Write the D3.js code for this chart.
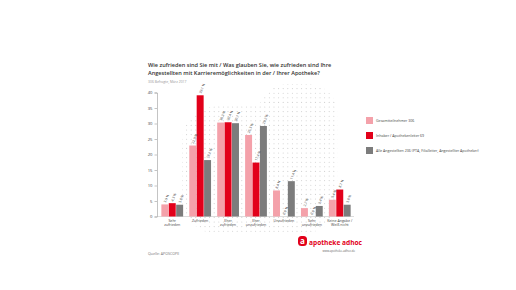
<!DOCTYPE html>
<html>
<head>
<meta charset="utf-8">
<script src="https://cdn.jsdelivr.net/npm/d3@7"></script>
<style>
  html, body { margin: 0; padding: 0; background: #fff; }
  svg { display: block; font-family: "Open Sans", "Liberation Sans", sans-serif; }
</style>
</head>
<body>
<div id="chart"></div>
<script>
(function () {
  'use strict';

  var categories = ['Sehr zufrieden', 'Zufrieden', 'Eher zufrieden', 'Eher unzufrieden',
                    'Unzufrieden', 'Sehr unzufrieden', 'Keine Angabe / Weiß nicht'];
  var categoryLines = [['Sehr', 'zufrieden'], ['Zufrieden'], ['Eher', 'zufrieden'], ['Eher', 'unzufrieden'],
                       ['Unzufrieden'], ['Sehr', 'unzufrieden'], ['Keine Angabe /', 'Weiß nicht']];
  var seriesNames = ['Gesamtteilnehmer 306', 'Inhaber / Apothekenleiter 69',
                     'Alle Angestellten 236 (PTA, Filialleiter, Angestellter Apotheker)'];
  var gesamt = [3.9, 22.9, 30.3, 26.3, 8.4, 2.7, 5.4];
  var inhaber = [4.3, 39.1, 30.4, 17.4, 0.0, 0.0, 8.7];
  var angestellte = [3.8, 18.2, 30.1, 29.2, 11.4, 3.4, 3.8];
  var yTicks = [0, 5, 10, 15, 20, 25, 30, 35, 40];
  var colors = ['#f4a1aa', '#e2001a', '#7c7c7c'];

  var seriesValues = [gesamt, inhaber, angestellte];
  var width = 516, height = 290;

  var svg = d3.select('#chart').append('svg')
      .attr('width', width).attr('height', height);

  // background dot pattern (rough "a" outline)
  var defs = svg.append('defs');
  var clip = defs.append('clipPath').attr('id', 'dotclip');
  clip.append('rect')
      .attr('x', 182).attr('y', 106).attr('width', 156).attr('height', 128)
      .attr('rx', 36).attr('ry', 36);
  clip.append('rect')
      .attr('x', 258).attr('y', 84).attr('width', 80).attr('height', 90)
      .attr('rx', 30).attr('ry', 30);
  var dotPts = d3.cross(d3.range(182, 340, 4.6), d3.range(84, 236, 4.6));
  svg.append('g').attr('clip-path', 'url(#dotclip)')
      .selectAll('circle').data(dotPts).enter().append('circle')
      .attr('cx', function (d) { return d[0]; })
      .attr('cy', function (d) { return d[1]; })
      .attr('r', 0.55).attr('fill', '#cfcfcf');

  var x0 = d3.scaleBand().domain(categories).range([158, 354])
      .paddingInner(0.22).paddingOuter(0.12);
  var x1 = d3.scaleBand().domain([0, 1, 2]).range([0, x0.bandwidth()]).paddingInner(0.06);
  var y = d3.scaleLinear().domain([0, 40]).range([216.5, 92.5]);

  // title
  var title = svg.append('g').attr('fill', '#333').attr('font-size', 5.6).attr('font-weight', 600);
  title.append('text').attr('x', 148).attr('y', 67)
      .text('Wie zufrieden sind Sie mit / Was glauben Sie, wie zufrieden sind Ihre');
  title.append('text').attr('x', 148).attr('y', 75)
      .text('Angestellten mit Karrieremöglichkeiten in der / Ihrer Apotheke?');
  svg.append('text').attr('x', 148).attr('y', 82.5).attr('font-size', 3.4).attr('fill', '#999')
      .text('306 Befragte, März 2017');

  // y axis
  var yAxis = d3.axisLeft(y).tickValues(yTicks).tickSize(2.5).tickPadding(2);
  var ya = svg.append('g').attr('transform', 'translate(157,0)').call(yAxis);
  ya.select('.domain').attr('stroke', '#888').attr('stroke-width', 0.5);
  ya.selectAll('.tick line').attr('stroke', '#888').attr('stroke-width', 0.5);
  ya.selectAll('.tick text').attr('font-size', 4.2).attr('fill', '#444')
      .attr('font-family', '"Open Sans", sans-serif');

  // baseline
  svg.append('line').attr('x1', 157).attr('x2', 354)
      .attr('y1', y(0)).attr('y2', y(0))
      .attr('stroke', '#bbb').attr('stroke-width', 0.5);

  // bars
  var groups = svg.append('g').selectAll('g').data(categories).enter().append('g')
      .attr('transform', function (d) { return 'translate(' + x0(d) + ',0)'; });

  groups.selectAll('rect').data(function (d, i) {
    return seriesValues.map(function (vals, s) { return {s: s, v: vals[i]}; });
  }).enter().append('rect')
      .attr('x', function (d) { return x1(d.s); })
      .attr('y', function (d) { return y(d.v); })
      .attr('width', x1.bandwidth())
      .attr('height', function (d) { return y(0) - y(d.v); })
      .attr('fill', function (d) { return colors[d.s]; });

  groups.selectAll('text.val').data(function (d, i) {
    return seriesValues.map(function (vals, s) { return {s: s, v: vals[i]}; });
  }).enter().append('text')
      .attr('class', 'val')
      .attr('transform', function (d) {
        return 'translate(' + (x1(d.s) + x1.bandwidth() / 2 + 1) + ',' + (y(d.v) - 1.5) + ') rotate(-68)';
      })
      .attr('font-size', 3.4).attr('fill', '#444')
      .text(function (d) { return d3.format('.1f')(d.v).replace('.', ',') + ' %'; });

  // x labels
  var xl = svg.append('g').attr('font-size', 3.6).attr('fill', '#444').attr('text-anchor', 'middle');
  categories.forEach(function (c, i) {
    var t = xl.append('text').attr('x', x0(c) + x0.bandwidth() / 2).attr('y', 222);
    categoryLines[i].forEach(function (line, j) {
      t.append('tspan').attr('x', x0(c) + x0.bandwidth() / 2).attr('dy', j ? 4.4 : 0).text(line);
    });
  });

  // legend
  var legend = svg.append('g').selectAll('g').data(seriesNames).enter().append('g')
      .attr('transform', function (d, i) { return 'translate(366,' + (117 + i * 15) + ')'; });
  legend.append('rect').attr('width', 7).attr('height', 7)
      .attr('fill', function (d, i) { return colors[i]; });
  legend.append('text').attr('x', 10).attr('y', 5).attr('font-size', 3.6).attr('fill', '#444')
      .text(function (d) { return d; });

  // source
  svg.append('text').attr('x', 148).attr('y', 255).attr('font-size', 3.6).attr('fill', '#777')
      .text('Quelle: APOSCOPE');

  // logo
  var logo = svg.append('g').attr('transform', 'translate(298,236)');
  logo.append('rect').attr('x', 0).attr('y', 0).attr('width', 9).attr('height', 10)
      .attr('rx', 3.5).attr('fill', '#e2001a');
  logo.append('text').attr('x', 4.5).attr('y', 7.8).attr('text-anchor', 'middle')
      .attr('font-size', 8).attr('font-weight', 700).attr('fill', '#fff').text('a');
  logo.append('text').attr('x', 11).attr('y', 9).attr('font-size', 6.6).attr('font-weight', 700)
      .attr('fill', '#e2001a').text('apotheke adhoc');
  logo.append('text').attr('x', 57).attr('y', 15.5).attr('text-anchor', 'end')
      .attr('font-size', 2.8).attr('fill', '#666').text('www.apotheke-adhoc.de');
}());
</script>
</body>
</html>
